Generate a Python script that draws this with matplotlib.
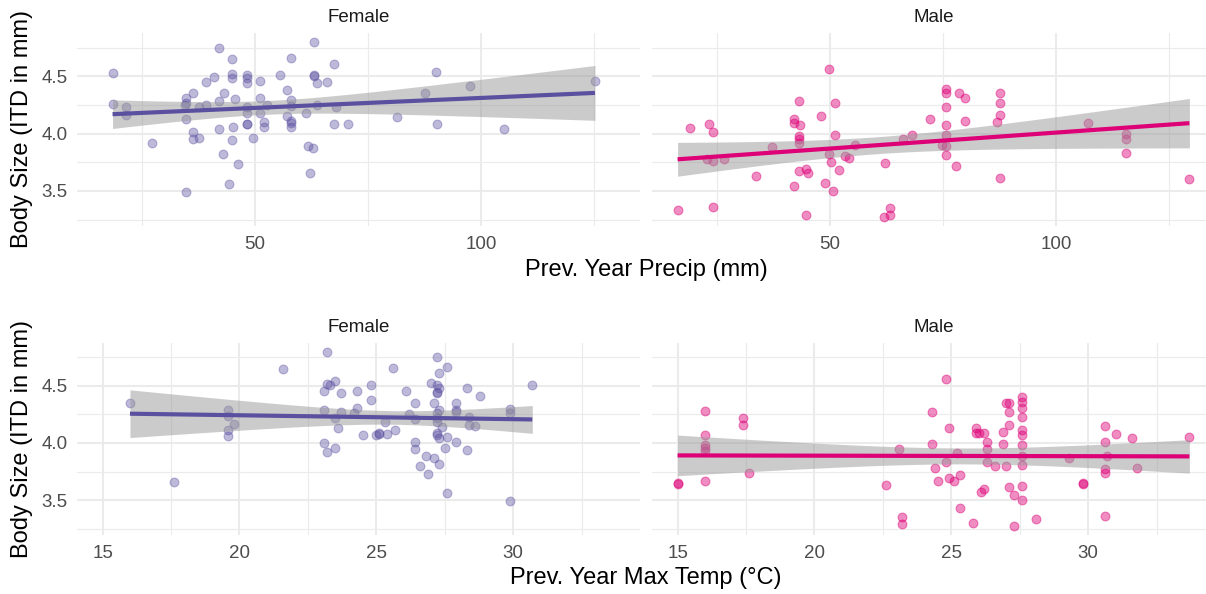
import numpy as np
import matplotlib
matplotlib.use('Agg')
import matplotlib.pyplot as plt
from matplotlib.ticker import MultipleLocator

plt.rcParams['font.family'] = ['Liberation Sans', 'DejaVu Sans']

# ---- data ----
# top row: previous year precipitation (mm) vs body size
precip_f = [18.5, 18.5, 21.4, 21.4, 27.3, 34.8, 34.8, 34.6, 34.8, 34.8, 36.3, 36.3,
            36.3, 37.6, 37.6, 39.2, 39.2, 40.9, 42.0, 42.0, 42.0, 42.9, 43.1, 44.3,
            44.8, 44.8, 44.8, 44.8, 45.1, 45.6, 46.3, 48.2, 48.2, 48.2, 48.2, 48.2,
            48.2, 48.2, 49.6, 51.1, 51.1, 51.1, 52.0, 52.0, 52.6, 55.4, 57.1, 57.1,
            58.0, 58.0, 58.0, 58.0, 58.0, 58.0, 61.3, 61.8, 62.2, 62.7, 63.0, 63.1,
            63.1, 63.7, 63.7, 65.8, 67.5, 67.4, 67.9, 70.5, 81.3, 87.6, 89.9, 90.2,
            97.5, 105.0, 125.1]
itd_precip_f = [4.53, 4.26, 4.23, 4.16, 3.92, 4.31, 4.27, 4.25, 4.13, 3.49, 4.35, 4.01,
                3.95, 3.96, 4.23, 4.45, 4.25, 4.49, 4.75, 4.28, 4.04, 3.82, 4.35, 3.56,
                4.65, 4.52, 4.48, 3.94, 4.06, 4.30, 3.73, 4.51, 4.48, 4.44, 4.23, 4.18,
                4.08, 4.08, 3.96, 4.46, 4.31, 4.18, 4.10, 4.06, 4.25, 4.51, 4.38, 4.15,
                4.66, 4.29, 4.24, 4.11, 4.09, 4.06, 4.18, 3.89, 3.66, 3.87, 4.80, 4.51,
                4.50, 4.44, 4.25, 4.45, 4.61, 4.08, 4.23, 4.08, 4.14, 4.35, 4.54, 4.08,
                4.41, 4.04, 4.46]

precip_m = [16.3, 19.1, 23.3, 24.1, 22.8, 24.1, 26.5, 24.1, 33.7, 37.2, 42.1, 42.1,
            43.2, 43.3, 43.2, 43.2, 43.2, 42.1, 43.2, 44.6, 45.2, 44.7, 47.9, 48.8,
            49.8, 49.8, 50.2, 50.6, 51.1, 51.1, 52.0, 53.3, 54.2, 55.4, 62.1, 62.0,
            63.2, 63.2, 66.0, 68.1, 72.1, 74.8, 75.6, 75.6, 75.6, 75.6, 75.6, 75.6,
            75.6, 77.9, 78.5, 79.8, 79.8, 86.8, 87.6, 87.6, 87.6, 87.6, 107.0, 115.3,
            115.3, 115.3, 129.4]
itd_precip_m = [3.33, 4.05, 4.08, 4.01, 3.78, 3.76, 3.78, 3.36, 3.63, 3.88, 4.13, 4.09,
                4.28, 4.07, 3.98, 3.95, 3.92, 3.54, 3.67, 3.69, 3.66, 3.29, 4.15, 3.57,
                4.56, 3.82, 3.75, 3.50, 4.27, 3.99, 3.68, 3.80, 3.79, 3.90, 3.74, 3.27,
                3.35, 3.29, 3.95, 3.99, 4.13, 3.90, 4.39, 4.35, 4.23, 4.07, 3.99, 3.89,
                3.81, 3.72, 4.35, 4.31, 4.11, 4.10, 4.35, 4.27, 4.16, 3.61, 4.09, 4.00,
                3.95, 3.83, 3.60]

# bottom row: previous year max temperature (C) vs body size
temp_f = [16.0, 17.6, 19.6, 19.6, 19.6, 19.6, 19.8, 21.6, 23.1, 23.1, 23.1, 23.2,
          23.2, 23.2, 23.3, 23.5, 23.5, 23.5, 23.6, 23.7, 23.7, 24.2, 24.3, 24.3,
          24.5, 24.8, 24.8, 25.0, 25.1, 25.1, 25.3, 25.4, 25.7, 25.6, 26.1, 26.2,
          26.4, 26.4, 26.4, 26.4, 26.6, 26.8, 26.9, 27.0, 27.1, 27.1, 27.2, 27.2,
          27.2, 27.2, 27.2, 27.2, 27.2, 27.2, 27.2, 27.3, 27.3, 27.3, 27.3, 27.3,
          27.4, 27.5, 27.6, 27.6, 27.6, 27.9, 27.9, 27.9, 27.9, 28.3, 28.3, 28.4,
          28.4, 28.6, 28.8, 29.9, 29.9, 29.9, 30.7]
itd_temp_f = [4.35, 3.66, 4.29, 4.24, 4.11, 4.06, 4.17, 4.65, 4.46, 4.29, 4.00, 3.92,
              4.80, 4.52, 4.51, 4.22, 3.96, 4.54, 4.13, 4.44, 4.27, 4.26, 4.46, 4.31,
              4.07, 4.51, 4.38, 4.07, 4.08, 4.09, 4.18, 4.08, 4.11, 4.66, 4.46, 4.25,
              4.35, 4.21, 4.01, 3.95, 3.80, 3.89, 3.73, 4.53, 4.35, 3.87, 4.75, 4.51,
              4.45, 4.44, 4.26, 4.22, 4.18, 4.09, 4.07, 4.04, 3.82, 4.61, 4.48, 4.29,
              4.14, 3.96, 3.56, 4.05, 4.67, 4.01, 4.35, 4.29, 4.27, 4.48, 3.94, 4.16,
              4.23, 4.15, 4.41, 4.30, 4.26, 3.49, 4.51]

temp_m = [15.0, 15.0, 16.0, 16.0, 16.0, 16.0, 16.0, 16.0, 17.4, 17.4, 17.6, 22.6,
          23.1, 23.2, 23.2, 24.3, 24.3, 24.4, 24.5, 24.8, 24.8, 24.9, 24.9, 25.1,
          25.2, 25.3, 25.3, 25.8, 25.9, 25.9, 26.0, 26.2, 26.1, 26.2, 26.3, 26.3,
          26.3, 26.6, 26.9, 26.9, 27.0, 27.0, 27.1, 27.1, 27.1, 27.1, 27.3, 27.3,
          27.6, 27.6, 27.6, 27.6, 27.6, 27.6, 27.6, 27.6, 27.6, 27.6, 27.6, 28.1,
          29.3, 29.8, 29.8, 30.6, 30.6, 30.6, 30.6, 30.6, 30.7, 31.0, 31.6, 31.8,
          33.7]
itd_temp_m = [3.64, 3.65, 4.28, 4.07, 3.98, 3.96, 3.93, 3.67, 4.22, 4.16, 3.74, 3.63,
              3.95, 3.35, 3.29, 4.27, 3.99, 3.78, 3.67, 4.56, 3.83, 4.13, 3.69, 3.67,
              3.91, 3.72, 3.43, 3.30, 4.13, 4.09, 4.09, 4.09, 3.57, 3.60, 4.01, 3.95,
              3.83, 3.80, 4.10, 3.99, 3.80, 4.35, 4.35, 4.27, 4.16, 3.61, 3.54, 3.27,
              4.40, 4.36, 4.31, 4.23, 4.11, 4.07, 3.98, 3.89, 3.81, 3.62, 3.50, 3.33,
              3.87, 3.64, 3.65, 4.15, 4.01, 3.77, 3.74, 3.36, 3.89, 4.08, 4.04, 3.78,
              4.05]

sexes = ['Female', 'Male']
colors = {'Female': '#5B50A0', 'Male': '#DD0077'}
point_alpha = {'Female': 0.4, 'Male': 0.45}

W, H = 1206, 594
fig = plt.figure(figsize=(W / 100, H / 100), dpi=100)


def px_axes(x0, y0, x1, y1):
    '''Axes from pixel box (top-left origin).'''
    return fig.add_axes([x0 / W, 1 - y1 / H, (x1 - x0) / W, (y1 - y0) / H])


def lm_band(x, y, t=1.99):
    x = np.asarray(x, float)
    y = np.asarray(y, float)
    b, a = np.polyfit(x, y, 1)
    n = len(x)
    resid = y - (a + b * x)
    s = np.sqrt(np.sum(resid ** 2) / (n - 2))
    xm = x.mean()
    sxx = np.sum((x - xm) ** 2)
    xs = np.linspace(x.min(), x.max(), 80)
    fit = a + b * xs
    se = s * np.sqrt(1.0 / n + (xs - xm) ** 2 / sxx)
    return xs, fit, fit - t * se, fit + t * se


def expand(vals, frac=0.05):
    lo, hi = min(vals), max(vals)
    d = (hi - lo) * frac
    return lo - d, hi + d


all_itd = itd_precip_f + itd_precip_m + itd_temp_f + itd_temp_m
ylim = expand(all_itd)

rows = [
    {'data': {'Female': (precip_f, itd_precip_f), 'Male': (precip_m, itd_precip_m)},
     'top': 33, 'bottom': 226, 'major': 50, 'minor': 25,
     'xlabel': 'Prev. Year Precip (mm)', 'xlabel_y': 270},
    {'data': {'Female': (temp_f, itd_temp_f), 'Male': (temp_m, itd_temp_m)},
     'top': 343, 'bottom': 535, 'major': 5, 'minor': 2.5,
     'xlabel': 'Prev. Year Max Temp (°C)', 'xlabel_y': 578},
]
panel_x = {'Female': (77, 640), 'Male': (652, 1215)}

for row in rows:
    xlim = expand(row['data']['Female'][0] + row['data']['Male'][0])
    for sex in sexes:
        x, y = row['data'][sex]
        x0, x1 = panel_x[sex]
        ax = px_axes(x0, row['top'], x1, row['bottom'])
        col = colors[sex]
        ax.scatter(x, y, s=40, color=col, alpha=point_alpha[sex],
                   edgecolors=col, linewidths=0.8, zorder=2)
        xs, fit, lo, hi = lm_band(x, y)
        ax.fill_between(xs, lo, hi, color='#999999', alpha=0.5, lw=0, zorder=3)
        ax.plot(xs, fit, color=col, lw=3.0, solid_capstyle='butt', zorder=4)

        ax.set_xlim(xlim)
        ax.set_ylim(ylim)
        ax.xaxis.set_major_locator(MultipleLocator(row['major']))
        ax.xaxis.set_minor_locator(MultipleLocator(row['minor']))
        ax.yaxis.set_major_locator(MultipleLocator(0.5))
        ax.yaxis.set_minor_locator(MultipleLocator(0.25))
        ax.grid(which='major', color='#EBEBEB', lw=1.5, zorder=0)
        ax.grid(which='minor', color='#EBEBEB', lw=0.8, zorder=0)
        ax.set_axisbelow(True)
        for sp in ax.spines.values():
            sp.set_visible(False)
        ax.tick_params(which='both', length=0, labelsize=13.5, labelcolor='#4D4D4D')
        ax.tick_params(axis='x', pad=7)
        ax.tick_params(axis='y', pad=7)
        ax.set_yticks([3.5, 4.0, 4.5])
        ax.set_yticklabels(['3.5', '4.0', '4.5'])
        if sex == 'Male':
            ax.tick_params(axis='y', labelleft=False)
        fig.text((x0 + x1) / 2 / W, 1 - (row['top'] - 16) / H, sex,
                 ha='center', va='center', fontsize=13.5, color='#1A1A1A')

    fig.text(646 / W, 1 - row['xlabel_y'] / H, row['xlabel'],
             ha='center', va='center', fontsize=17, color='black')
    fig.text(22 / W, 1 - (row['top'] + row['bottom']) / 2 / H, 'Body Size (ITD in mm)',
             ha='center', va='center', rotation=90, fontsize=17, color='black')

fig.savefig('out.png', dpi=100, facecolor='white')
